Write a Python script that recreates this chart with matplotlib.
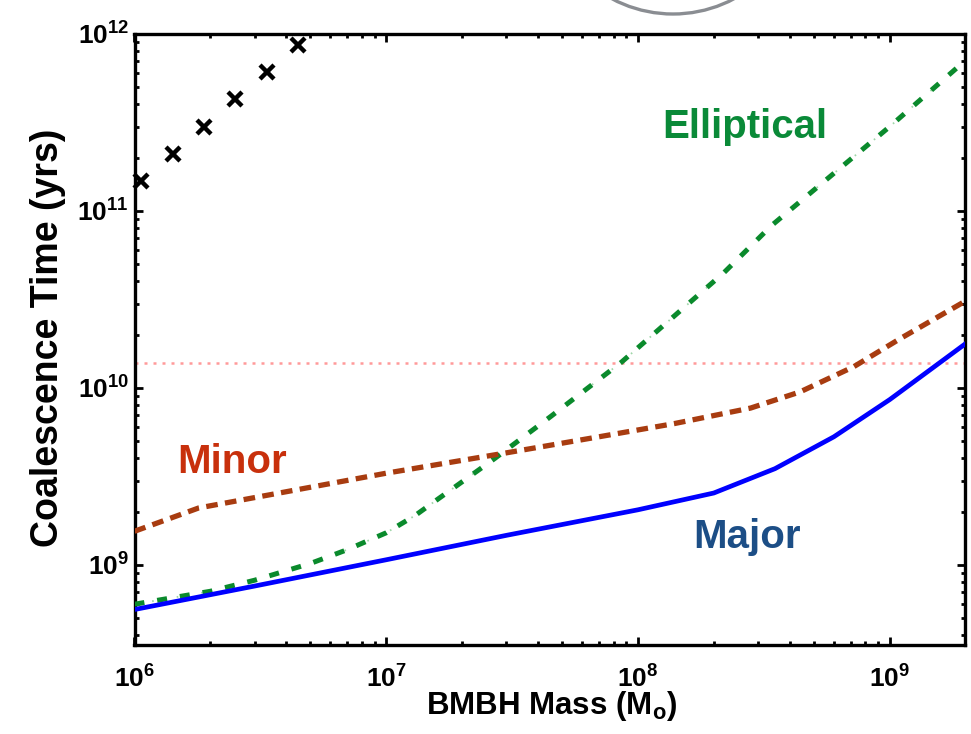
import matplotlib
matplotlib.use('Agg')
import matplotlib.pyplot as plt
from matplotlib.patches import Ellipse

# ---------------- data ----------------
cross_mass = [1.06e6, 1.42e6, 1.88e6, 2.51e6, 3.37e6, 4.46e6]
cross_time = [1.48e11, 2.09e11, 2.99e11, 4.29e11, 6.07e11, 8.66e11]

major_mass = [1e6, 3e6, 1e7, 3e7, 1e8, 2e8, 3.5e8, 6e8, 1e9, 2e9]
major_time = [5.6e8, 7.6e8, 1.07e9, 1.47e9, 2.05e9, 2.55e9, 3.5e9, 5.3e9, 8.6e9, 1.78e10]

minor_mass = [1e6, 1.8e6, 1e7, 3e7, 7e7, 1.4e8, 2.8e8, 4.4e8, 7.2e8, 1.1e9, 2e9]
minor_time = [1.55e9, 2.1e9, 3.3e9, 4.3e9, 5.3e9, 6.3e9, 7.7e9, 9.5e9, 1.32e10, 1.9e10, 3.1e10]

ell_mass = [1e6, 2e6, 3e6, 5e6, 7e6, 1e7, 1.3e7, 1.6e7, 2.7e7, 4.5e7, 8.6e7, 2.2e8, 3.4e8, 1e9, 2e9]
ell_time = [6.0e8, 7.1e8, 8.2e8, 1.02e9, 1.22e9, 1.52e9, 1.9e9, 2.35e9, 4.0e9, 6.9e9, 1.4e10,
            4.5e10, 8.3e10, 3.0e11, 7.1e11]

hubble_time = 1.38e10

x_ticks = [1e6, 1e7, 1e8, 1e9]
x_tick_labels = [r'$\mathbf{10^{6}}$', r'$\mathbf{10^{7}}$', r'$\mathbf{10^{8}}$', r'$\mathbf{10^{9}}$']
y_ticks = [1e9, 1e10, 1e11, 1e12]
y_tick_labels = [r'$\mathbf{10^{9}}$', r'$\mathbf{10^{10}}$', r'$\mathbf{10^{11}}$', r'$\mathbf{10^{12}}$']

x_label = r'BMBH Mass (M$_{\mathbf{o}}$)'
y_label = 'Coalescence Time (yrs)'
label_elliptical = 'Elliptical'
label_minor = 'Minor'
label_major = 'Major'

# ---------------- style ----------------
plt.rcParams['font.family'] = ['Liberation Sans', 'DejaVu Sans']
plt.rcParams['font.weight'] = 'bold'
plt.rcParams['mathtext.fontset'] = 'custom'
plt.rcParams['mathtext.rm'] = 'Liberation Sans:bold'
plt.rcParams['mathtext.bf'] = 'Liberation Sans:bold'
plt.rcParams['mathtext.it'] = 'Liberation Sans:bold:italic'

W, H = 971, 734
fig = plt.figure(figsize=(W / 100, H / 100), dpi=100)
ax = fig.add_axes([134.5 / W, 1 - 645 / H, (965 - 134.5) / W, (645 - 34) / H])

ax.set_xscale('log')
ax.set_yscale('log')

green = '#0a8a2c'
brown = '#a83c10'
blue = '#0000ff'

# Hubble time line
ax.axhline(hubble_time, color='#ff9a9a', lw=1.8, linestyle=(0, (1.2, 2.4)), zorder=1)

# Elliptical: thick dashes with faint thin dots between
ax.plot(ell_mass, ell_time, color='#9fd6a8', lw=1.3, linestyle=(3.9, (0.9, 12.9)), zorder=2)
ax.plot(ell_mass, ell_time, color=green, lw=3.6, linestyle=(0, (2.0, 2.6)), zorder=3)

# Minor: dashed
ax.plot(minor_mass, minor_time, color=brown, lw=3.8, linestyle=(0, (2.2, 1.4)), zorder=3)

# Major: solid
ax.plot(major_mass, major_time, color=blue, lw=3.4, zorder=4)

# crosses
ax.plot(cross_mass, cross_time, linestyle='none', marker='x', color='black',
        markersize=10, markeredgewidth=3.2, zorder=5, clip_on=False)

ax.set_xlim(1e6, 1.99e9)
ax.set_ylim(3.53e8, 1e12)

ax.set_xticks(x_ticks)
ax.set_xticklabels(x_tick_labels)
ax.set_yticks(y_ticks)
ax.set_yticklabels(y_tick_labels)

ax.tick_params(which='both', direction='in', top=True, right=True, width=2)
ax.tick_params(which='major', length=6, labelsize=19)
ax.tick_params(which='minor', length=3)
ax.tick_params(axis='x', which='major', pad=15)
ax.tick_params(axis='y', which='major', pad=4)
for sp in ax.spines.values():
    sp.set_linewidth(2.4)

# axis labels
fig.text(552 / W, 1 - 714 / H, x_label, ha='center', va='baseline',
         fontsize=22.5, fontweight='bold')
fig.text(48 / W, 1 - 338 / H, y_label, ha='center', va='center', rotation=90,
         fontsize=27, fontweight='bold')

# curve labels
fig.text(662 / W, 1 - 138 / H, label_elliptical, color='#0a8a38', fontsize=29,
         fontweight='bold', ha='left', va='baseline')
fig.text(177 / W, 1 - 473 / H, label_minor, color='#c8300c', fontsize=29,
         fontweight='bold', ha='left', va='baseline')
fig.text(693 / W, 1 - 548 / H, label_major, color='#1c4e86', fontsize=29,
         fontweight='bold', ha='left', va='baseline')

# decorative grey circle partly visible at the top
r = 130
fig.add_artist(Ellipse((673 / W, 1 + 116 / H), 2 * r / W, 2 * r / H,
                       transform=fig.transFigure, fill=False,
                       edgecolor='#8a8d92', lw=2.4, clip_on=False))

fig.savefig('out.png', dpi=100)
